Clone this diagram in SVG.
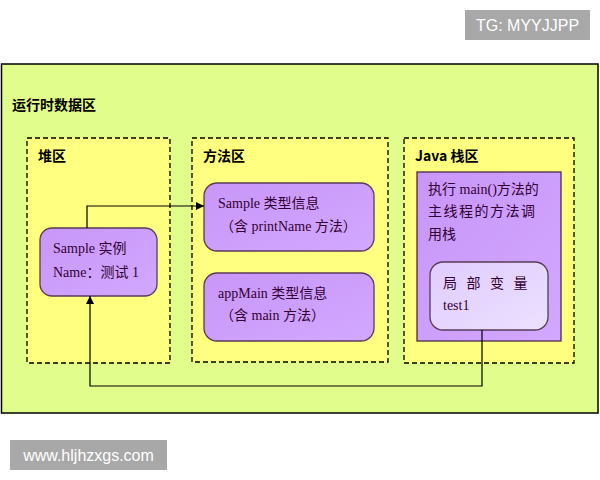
<svg xmlns="http://www.w3.org/2000/svg" width="600" height="480" viewBox="0 0 600 480">
<defs>
<style>
.area{fill:#ffff80;stroke:#000;stroke-width:1.3;stroke-dasharray:5,3}
.box{fill:url(#pg);stroke:#5a3a5a;stroke-width:1.3}
.hdr{font-family:"Noto Sans CJK SC","Liberation Sans",sans-serif;font-weight:bold;font-size:14px;fill:#000}
.t{font-family:"Liberation Serif","Noto Sans CJK SC",serif;font-size:14px;fill:#330033}
.wm{font-family:"Liberation Sans","Noto Sans",sans-serif;font-size:16px;fill:#fff}
.ln{fill:none;stroke:#000;stroke-width:1.2}
</style>
<linearGradient id="pg" x1="0" y1="0" x2="1" y2="1">
<stop offset="0" stop-color="#c896f8"/>
<stop offset="1" stop-color="#d2a8ff"/>
</linearGradient>
<linearGradient id="lg" x1="0" y1="0" x2="1" y2="1">
<stop offset="0" stop-color="#e0ccff"/>
<stop offset="1" stop-color="#ece0ff"/>
</linearGradient>
<marker id="ah" viewBox="0 0 10 10" refX="10" refY="5" markerWidth="8" markerHeight="8" orient="auto" markerUnits="userSpaceOnUse">
<path d="M0,0 L10,5 L0,10 z" fill="#000"/>
</marker>
</defs>
<rect width="600" height="480" fill="#fff"/>
<g id="watermark-top">
<rect x="465" y="10" width="125" height="30" fill="#a8a8a8"/>
<text x="527.5" y="31" text-anchor="middle" class="wm">TG: MYYJJPP</text>
</g>
<g id="runtime-area">
<rect x="1.5" y="64" width="596.5" height="349" fill="#e1fd8b" stroke="#000" stroke-width="1.5"/>
<text x="12" y="110" class="hdr" font-size="15">运行时数据区</text>
</g>
<g id="heap">
<rect x="27" y="138" width="143" height="225" class="area"/>
<text x="38" y="161" class="hdr">堆区</text>
</g>
<g id="method-area">
<rect x="192" y="138" width="196" height="224" class="area"/>
<text x="203" y="161" class="hdr">方法区</text>
</g>
<g id="java-stack">
<rect x="404" y="138" width="170" height="225" class="area"/>
<text x="415" y="161" class="hdr">Java 栈区</text>
</g>
<g id="sample-instance">
<rect x="40" y="228" width="117" height="68" rx="12" class="box"/>
<text x="53" y="253" class="t">Sample 实例</text>
<text x="53" y="277" class="t">Name：测试 1</text>
</g>
<g id="sample-type">
<rect x="204" y="183" width="170" height="68" rx="13" class="box"/>
<text x="218" y="208" class="t">Sample 类型信息</text>
<text x="220" y="231" class="t">（含 printName 方法）</text>
</g>
<g id="appmain-type">
<rect x="204" y="273" width="170" height="68" rx="13" class="box"/>
<text x="218" y="298" class="t">appMain 类型信息</text>
<text x="220" y="320" class="t">（含 main 方法）</text>
</g>
<g id="main-thread-stack">
<rect x="417" y="172" width="144" height="169" fill="url(#pg)" stroke="#4a2a4a" stroke-width="1.3"/>
<text x="428" y="194" class="t" font-size="15">执行 main()方法的</text>
<text x="428" y="216" class="t" font-size="15" letter-spacing="1.5">主线程的方法调</text>
<text x="428" y="239" class="t" font-size="15">用栈</text>
</g>
<g id="local-vars">
<rect x="430" y="262" width="118" height="68" rx="13" fill="url(#lg)" stroke="#5a3a5a" stroke-width="1.3"/>
<text x="443" y="288" class="t" font-size="16" letter-spacing="3">局 部 变 量</text>
<text x="443" y="310" class="t">test1</text>
</g>
<g id="connectors">
<polyline points="87,228 87,206 204,206" class="ln" marker-end="url(#ah)"/>
<polyline points="482,330 482,386 90,386 90,296" class="ln" marker-end="url(#ah)"/>
</g>
<g id="watermark-bottom">
<rect x="10" y="440" width="157" height="30" fill="#a8a8a8"/>
<text x="88.5" y="461" text-anchor="middle" class="wm">www.hljhzxgs.com</text>
</g>
</svg>
